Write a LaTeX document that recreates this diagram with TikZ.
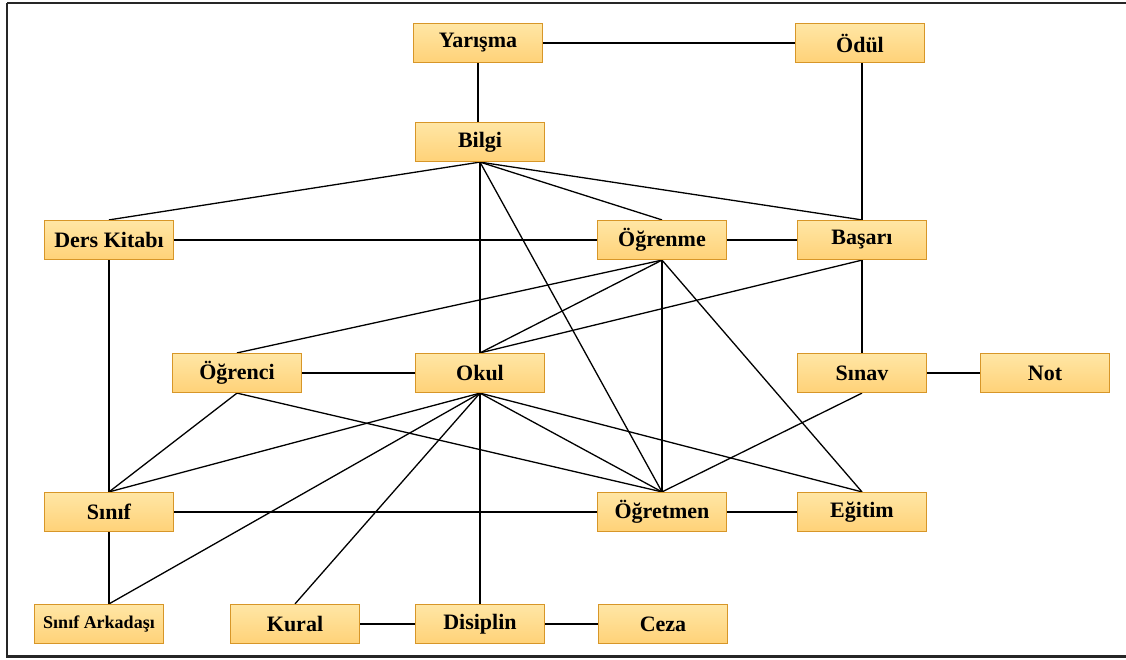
\documentclass[tikz,border=0pt]{standalone}
\usepackage{fontspec}
\setmainfont{Liberation Serif}
\usetikzlibrary{backgrounds}
\begin{document}
\begin{tikzpicture}[x=1pt,y=-1pt,
  box/.style={draw=boxedge, line width=1.2pt, top color=boxtop, bottom color=boxbot,
    minimum width=129pt, minimum height=39pt, inner sep=0pt,
    font=\fontsize{22}{22}\selectfont\bfseries},
  smallbox/.style={box, font=\fontsize{18}{18}\selectfont\bfseries},
  link/.style={line width=1.3pt, black}]
\definecolor{boxedge}{RGB}{215,150,40}
\definecolor{boxtop}{RGB}{255,230,165}
\definecolor{boxbot}{RGB}{255,210,120}
\useasboundingbox (0,0) rectangle (1126,659);
\draw[line width=2.5pt, black!85] (7,3) -- (1130,3);
\draw[line width=2.5pt, black!85] (7,3) -- (7,656.5) -- (1130,656.5);
% nodes
\node[box] (yar) at (478,43) {Yarışma};
\node[box] (odul) at (860,43) {Ödül};
\node[box] (bilgi) at (480,142) {Bilgi};
\node[box] (ders) at (109,240) {Ders Kitabı};
\node[box] (ogrenme) at (662,240) {Öğrenme};
\node[box] (basari) at (862,240) {Başarı};
\node[box] (ogrenci) at (237,373) {Öğrenci};
\node[box] (okul) at (480,373) {Okul};
\node[box] (sinav) at (862,373) {Sınav};
\node[box] (not) at (1045,373) {Not};
\node[box] (sinif) at (109,512) {Sınıf};
\node[box] (ogretmen) at (662,512) {Öğretmen};
\node[box] (egitim) at (862,512) {Eğitim};
\node[smallbox] (ark) at (99,624) {Sınıf Arkadaşı};
\node[box] (kural) at (295,624) {Kural};
\node[box] (disiplin) at (480,624) {Disiplin};
\node[box] (ceza) at (663,624) {Ceza};
% connectors
\begin{scope}[on background layer]
\draw[link] (yar) -- (odul);
\draw[link] (yar.south) -- (bilgi.north -| yar.south);
\draw[link] (basari.north |- odul.south) -- (basari.north);
\draw[link] (bilgi.south) -- (ders.north);
\draw[link] (bilgi.south) -- (ogrenme.north);
\draw[link] (bilgi.south) -- (basari.north);
\draw[link] (bilgi.south) -- (okul.north);
\draw[link] (bilgi.south) -- (ogretmen.north);
\draw[link] (ders) -- (ogrenme);
\draw[link] (ogrenme) -- (basari);
\draw[link] (ders.south) -- (sinif.north);
\draw[link] (ogrenme.south) -- (ogrenci.north);
\draw[link] (ogrenme.south) -- (okul.north);
\draw[link] (ogrenme.south) -- (ogretmen.north);
\draw[link] (ogrenme.south) -- (egitim.north);
\draw[link] (basari.south) -- (okul.north);
\draw[link] (basari.south) -- (sinav.north);
\draw[link] (ogrenci) -- (okul);
\draw[link] (sinav) -- (not);
\draw[link] (ogrenci.south) -- (sinif.north);
\draw[link] (ogrenci.south) -- (ogretmen.north);
\draw[link] (okul.south) -- (sinif.north);
\draw[link] (okul.south) -- (sinif.south |- ark.north);
\draw[link] (okul.south) -- (kural.north);
\draw[link] (okul.south) -- (disiplin.north);
\draw[link] (okul.south) -- (ogretmen.north);
\draw[link] (okul.south) -- (egitim.north);
\draw[link] (sinav.south) -- (ogretmen.north);
\draw[link] (sinif) -- (ogretmen);
\draw[link] (ogretmen) -- (egitim);
\draw[link] (sinif.south) -- (sinif.south |- ark.north);
\draw[link] (kural) -- (disiplin);
\draw[link] (disiplin) -- (ceza);
\end{scope}
\end{tikzpicture}
\end{document}
